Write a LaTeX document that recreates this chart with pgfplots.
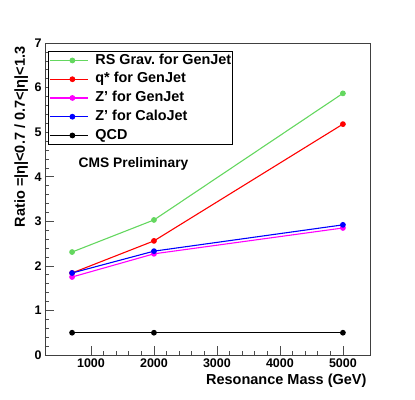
\documentclass[border=0pt]{standalone}
\usepackage{fontspec}
\setmainfont{Liberation Sans}
\usepackage{pgfplots}
\pgfplotsset{compat=1.18}

\definecolor{rsgreen}{RGB}{100,215,95}
\definecolor{zmag}{RGB}{255,0,255}

\begin{document}
\frenchspacing
\begin{tikzpicture}
\begin{axis}[
    scale only axis,
    width=325pt, height=312pt,
    xmin=270, xmax=5430,
    ymin=0, ymax=7,
    xtick={1000,2000,...,5000},
    ytick={0,1,...,7},
    minor x tick num=4,
    minor y tick num=4,
    tick align=inside,
    xtick pos=bottom, ytick pos=left,
    major tick length=9pt, minor tick length=4.5pt,
    axis line style={black!75, line width=0.8pt},
    every tick/.style={black!70, line width=0.6pt},
    scaled x ticks=false,
    xticklabel style={/pgf/number format/.cd,1000 sep={}},
    /pgf/number format/assume math mode=true,
    tick label style={font=\fontsize{12.5}{14}\selectfont\bfseries},
    xlabel={Resonance Mass (GeV)},
    ylabel={Ratio =|η|<0.7 / 0.7<|η|<1.3},
    label style={font=\fontsize{14.5}{16}\selectfont\bfseries},
    xlabel style={at={(rel axis cs:1,0)}, anchor=base east, yshift=-29pt},
    ylabel style={at={(rel axis cs:0,1)}, anchor=base east, yshift=20pt},
    legend style={at={(axis description cs:0.0092,0.974)}, anchor=north west,
        draw=black, line width=0.7pt, fill=white,
        font=\fontsize{14.4}{16}\selectfont\bfseries,
        inner xsep=1pt, inner ysep=2.25pt,
        row sep=5.25pt,
        nodes={inner sep=0pt, text height=10.5pt, text depth=3pt},
        /tikz/every odd column/.append style={column sep=7pt},
        cells={anchor=west}},
    legend image code/.code={
        \path (0pt,0pt) -- (7pt,0pt);
        \draw[mark repeat=2,mark phase=2] plot coordinates {(7pt,0pt) (22.5pt,0pt) (38pt,0pt)};
    },
    every axis plot/.append style={line width=1.1pt, mark=*, mark size=2.3pt},
]
\addplot[color=rsgreen, mark options={fill=rsgreen}] coordinates {(700,2.31) (2000,3.03) (5000,5.87)};
\addlegendentry{RS Grav. for GenJet}
\addplot[color=red, mark options={fill=red}] coordinates {(700,1.84) (2000,2.56) (5000,5.18)};
\addlegendentry{q* for GenJet}
\addplot[color=zmag, mark options={fill=zmag}] coordinates {(700,1.75) (2000,2.27) (5000,2.85)};
\addlegendentry{Z' for GenJet}
\addplot[color=blue, mark options={fill=blue}] coordinates {(700,1.84) (2000,2.33) (5000,2.92)};
\addlegendentry{Z' for CaloJet}
\addplot[color=black, mark options={fill=black}] coordinates {(700,0.5) (2000,0.5) (5000,0.5)};
\addlegendentry{QCD}
\node[anchor=base, font=\fontsize{13.8}{15}\selectfont\bfseries] at (axis cs:1676,4.2) {CMS Preliminary};
\coordinate (bl) at (rel axis cs:0,0);
\end{axis}
\pgfresetboundingbox
\useasboundingbox ([shift={(-45pt,-44pt)}]bl) rectangle ([shift={(370pt,355pt)}]bl);
\end{tikzpicture}
\end{document}
